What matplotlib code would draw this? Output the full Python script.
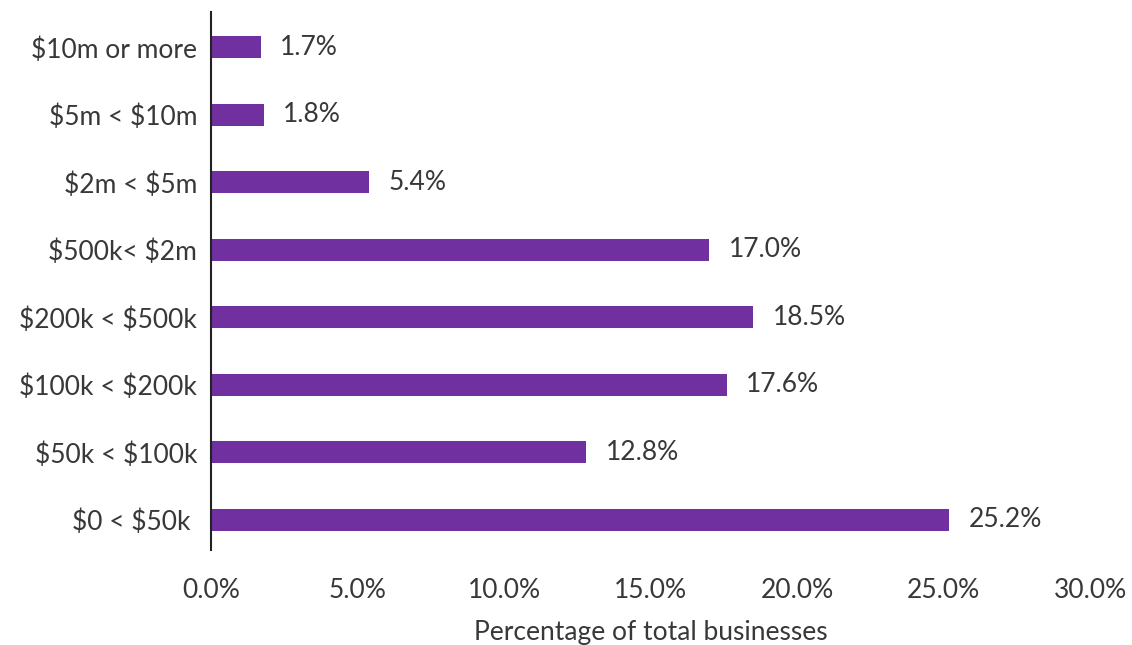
import matplotlib.pyplot as plt
from matplotlib.ticker import FuncFormatter, MultipleLocator

# Data (bottom to top)
categories = [
    "$0 < $50k ",
    "$50k < $100k",
    "$100k < $200k",
    "$200k < $500k",
    "$500k< $2m",
    "$2m < $5m",
    "$5m < $10m",
    "$10m or more",
]
shares = [25.2, 12.8, 17.6, 18.5, 17.0, 5.4, 1.8, 1.7]

COL_BAR = "#7030A0"
COL_TEXT = "#383838"
FONT = "Lato"
FS = 19

plt.rcParams["font.family"] = [FONT, "DejaVu Sans"]
plt.rcParams["text.parse_math"] = False

fig = plt.figure(figsize=(11.32, 6.45), dpi=100)
ax = fig.add_axes([0.1864, 0.147, 0.9630 - 0.1864, 0.981 - 0.147])

y = range(len(categories))
ax.barh(y, shares, height=0.33, color=COL_BAR)

# Value labels
for i, v in enumerate(shares):
    ax.annotate(
        f"{v:.1f}%",
        xy=(v, i),
        xytext=(14, 0),
        textcoords="offset points",
        va="center",
        ha="left",
        fontsize=FS,
        color=COL_TEXT,
    )

ax.set_xlim(0, 30)
ax.set_ylim(-0.45, 7.52)
ax.xaxis.set_major_locator(MultipleLocator(5))
ax.xaxis.set_major_formatter(FuncFormatter(lambda x, _: f"{x:.1f}%"))
ax.set_yticks(list(y))
ax.set_yticklabels(categories)

ax.tick_params(axis="x", length=0, pad=20, labelsize=FS, labelcolor=COL_TEXT)
ax.tick_params(axis="y", length=0, pad=10, labelsize=FS, labelcolor=COL_TEXT)

for side in ["top", "right", "bottom"]:
    ax.spines[side].set_visible(False)
ax.spines["left"].set_color("#222222")
ax.spines["left"].set_linewidth(1.5)

ax.set_xlabel("Percentage of total businesses", fontsize=FS, color=COL_TEXT, labelpad=12)

fig.savefig("out.png", dpi=100)
